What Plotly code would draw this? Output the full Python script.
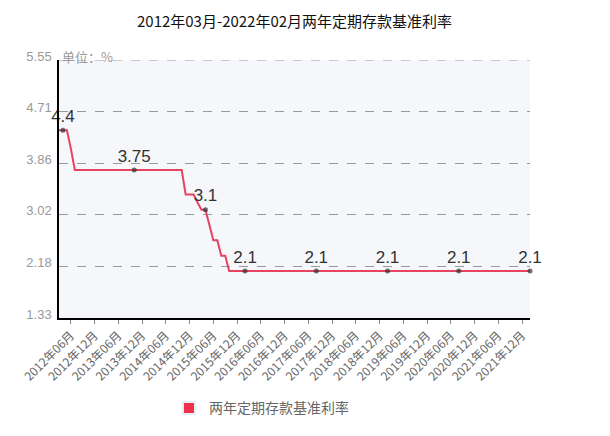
import plotly.graph_objects as go

# Monthly categories 2012年03月 .. 2022年02月
months = []
y, m = 2012, 3
while (y, m) <= (2022, 2):
    months.append(f"{y}年{m:02d}月")
    m += 1
    if m > 12:
        m = 1
        y += 1

rates = [
    4.4, 4.4, 4.4, 4.1, 3.75, 3.75, 3.75, 3.75, 3.75, 3.75, 3.75, 3.75,
    3.75, 3.75, 3.75, 3.75, 3.75, 3.75, 3.75, 3.75, 3.75, 3.75, 3.75, 3.75,
    3.75, 3.75, 3.75, 3.75, 3.75, 3.75, 3.75, 3.75, 3.35, 3.35, 3.35, 3.22,
    3.1, 3.1, 2.85, 2.6, 2.6, 2.35, 2.35, 2.1, 2.1, 2.1, 2.1, 2.1,
    2.1, 2.1, 2.1, 2.1, 2.1, 2.1, 2.1, 2.1, 2.1, 2.1, 2.1, 2.1,
    2.1, 2.1, 2.1, 2.1, 2.1, 2.1, 2.1, 2.1, 2.1, 2.1, 2.1, 2.1,
    2.1, 2.1, 2.1, 2.1, 2.1, 2.1, 2.1, 2.1, 2.1, 2.1, 2.1, 2.1,
    2.1, 2.1, 2.1, 2.1, 2.1, 2.1, 2.1, 2.1, 2.1, 2.1, 2.1, 2.1,
    2.1, 2.1, 2.1, 2.1, 2.1, 2.1, 2.1, 2.1, 2.1, 2.1, 2.1, 2.1,
    2.1, 2.1, 2.1, 2.1, 2.1, 2.1, 2.1, 2.1, 2.1, 2.1, 2.1, 2.1,
]

label_months = ["2012年04月", "2013年10月", "2015年04月", "2016年02月",
                "2017年08月", "2019年02月", "2020年08月", "2022年02月"]

tick_months = [
    "2012年06月", "2012年12月", "2013年06月", "2013年12月", "2014年06月",
    "2014年12月", "2015年06月", "2015年12月", "2016年06月", "2016年12月",
    "2017年06月", "2017年12月", "2018年06月", "2018年12月", "2019年06月",
    "2019年12月", "2020年06月", "2020年12月", "2021年06月", "2021年12月",
]

y_ticks = [1.33, 2.18, 3.02, 3.86, 4.71, 5.55]
y_tick_text = ["1.33", "2.18", "3.02", "3.86", "4.71", "5.55"]

series_name = "两年定期存款基准利率"
title_text = "2012年03月-2022年02月两年定期存款基准利率"
unit_text = "单位：%"

LINE = "#e6435f"
LEG = "#f0324f"
FONT = "Noto Sans CJK SC, Noto Sans, sans-serif"

label_set = set(label_months)
sizes = [5 if mm in label_set else 0 for mm in months]
texts = [f"{v:g}" if mm in label_set else "" for mm, v in zip(months, rates)]

fig = go.Figure()
fig.add_trace(go.Scatter(
    x=months, y=rates, mode="lines+markers+text",
    line=dict(color=LINE, width=2),
    marker=dict(size=sizes, color="#333333", line=dict(width=0)),
    text=texts, textposition="top center",
    textfont=dict(size=17, color="#333333", family="Arial, Liberation Sans, sans-serif"),
    showlegend=False, cliponaxis=False, hoverinfo="x+y",
))
fig.add_trace(go.Bar(
    x=[None], y=[None], name=series_name,
    marker=dict(color=LEG), showlegend=True,
))

# page body has an 8px margin, so the figure is offset by (8, 8)
fig.update_layout(
    width=602, height=428,
    margin=dict(l=43, r=80, t=52, b=117),
    paper_bgcolor="white",
    plot_bgcolor="#f6f7fb",
    title=dict(text=title_text, x=0.476, xanchor="center",
               y=1 - 14 / 428, yanchor="middle",
               font=dict(size=15, color="#111111", family=FONT)),
    font=dict(family=FONT),
    showlegend=True,
    legend=dict(orientation="h", x=0.43, xanchor="center", y=-0.35, yanchor="middle",
                font=dict(size=14, color="#666666", family=FONT),
                itemsizing="constant", bgcolor="rgba(0,0,0,0)"),
    xaxis=dict(
        type="category", categoryorder="array", categoryarray=months,
        range=[0, len(months) - 1],
        tickmode="array", tickvals=tick_months, ticktext=tick_months,
        tickangle=-45, tickfont=dict(size=12, color="#666666", family=FONT),
        ticks="outside", ticklen=4, tickcolor="#888888",
        showgrid=False, showline=True, linecolor="#000000", linewidth=1.5,
        zeroline=False, fixedrange=True,
    ),
    yaxis=dict(
        range=[1.33, 5.55],
        tickmode="array", tickvals=y_ticks, ticktext=y_tick_text,
        ticklabelshift=-4, ticklabelstandoff=3,
        tickfont=dict(size=13, color="#999999", family="Arial, Liberation Sans, sans-serif"),
        showgrid=True, gridcolor="#999999", griddash="dash", gridwidth=1,
        showline=True, linecolor="#000000", linewidth=1.5,
        ticks="", zeroline=False, fixedrange=True,
    ),
    shapes=[dict(
        type="line", xref="paper", yref="y", x0=0, x1=1,
        y0=y_ticks[-1], y1=y_ticks[-1],
        line=dict(color="#999999", width=1, dash="dash"), layer="below",
    )],
    annotations=[dict(
        text=unit_text, xref="paper", yref="paper", x=0, y=1.0,
        xanchor="left", yanchor="middle", yshift=4, xshift=1, showarrow=False,
        font=dict(size=13, color="#999999", family=FONT),
    )],
)

fig.write_html("out.html")
